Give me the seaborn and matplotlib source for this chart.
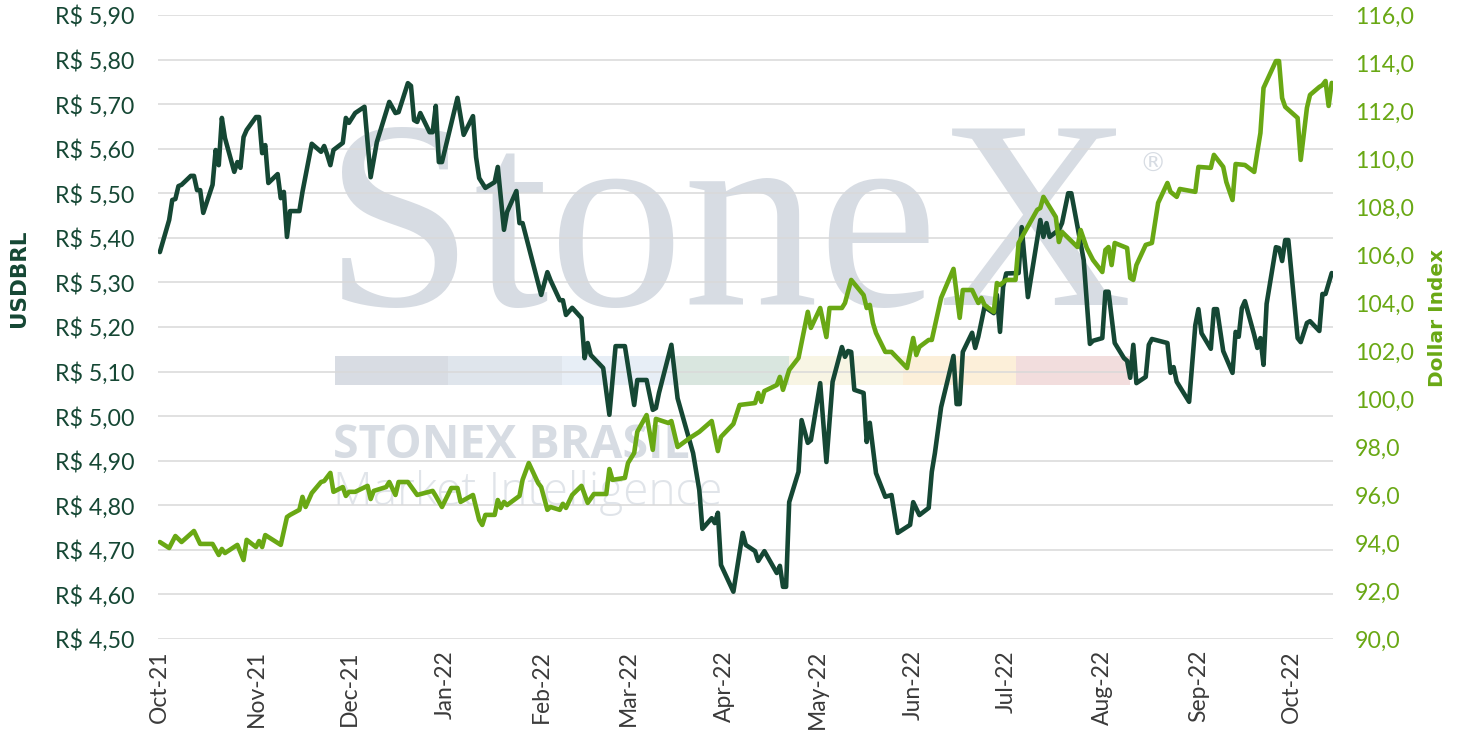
import matplotlib
matplotlib.use("Agg")
import matplotlib.pyplot as plt
import matplotlib.dates as mdates
from matplotlib.patches import Rectangle
from matplotlib.ticker import FuncFormatter
import seaborn as sns
import pandas as pd
import numpy as np

# USDBRL (left axis)
usd_dates = [
    "2021-10-01", "2021-10-04", "2021-10-05", "2021-10-06", "2021-10-07", "2021-10-08", "2021-10-11",
    "2021-10-12", "2021-10-13", "2021-10-14", "2021-10-15", "2021-10-18", "2021-10-19", "2021-10-20",
    "2021-10-21", "2021-10-22", "2021-10-25", "2021-10-26", "2021-10-27", "2021-10-28", "2021-10-29",
    "2021-11-01", "2021-11-02", "2021-11-03", "2021-11-04", "2021-11-05", "2021-11-08", "2021-11-09",
    "2021-11-10", "2021-11-11", "2021-11-12", "2021-11-15", "2021-11-16", "2021-11-19", "2021-11-22",
    "2021-11-23", "2021-11-24", "2021-11-25", "2021-11-26", "2021-11-29", "2021-11-30", "2021-12-01",
    "2021-12-03", "2021-12-06", "2021-12-08", "2021-12-10", "2021-12-14", "2021-12-16", "2021-12-17",
    "2021-12-20", "2021-12-21", "2021-12-22", "2021-12-23", "2021-12-24", "2021-12-27", "2021-12-28",
    "2021-12-29", "2021-12-30", "2021-12-31", "2022-01-05", "2022-01-07", "2022-01-10", "2022-01-11",
    "2022-01-12", "2022-01-14", "2022-01-17", "2022-01-18", "2022-01-20", "2022-01-21", "2022-01-24",
    "2022-01-25", "2022-01-26", "2022-02-01", "2022-02-03", "2022-02-04", "2022-02-07", "2022-02-08",
    "2022-02-09", "2022-02-11", "2022-02-14", "2022-02-15", "2022-02-16", "2022-02-17", "2022-02-21",
    "2022-02-23", "2022-02-25", "2022-02-28", "2022-03-03", "2022-03-04", "2022-03-07", "2022-03-09",
    "2022-03-10", "2022-03-11", "2022-03-15", "2022-03-17", "2022-03-22", "2022-03-24", "2022-03-25",
    "2022-03-28", "2022-03-29", "2022-03-30", "2022-03-31", "2022-04-04", "2022-04-07", "2022-04-08",
    "2022-04-11", "2022-04-12", "2022-04-14", "2022-04-18", "2022-04-19", "2022-04-20", "2022-04-21",
    "2022-04-22", "2022-04-25", "2022-04-26", "2022-04-28", "2022-04-29", "2022-05-02", "2022-05-04",
    "2022-05-06", "2022-05-09", "2022-05-10", "2022-05-11", "2022-05-12", "2022-05-13", "2022-05-16",
    "2022-05-17", "2022-05-18", "2022-05-20", "2022-05-23", "2022-05-25", "2022-05-27", "2022-05-31",
    "2022-06-01", "2022-06-03", "2022-06-06", "2022-06-07", "2022-06-08", "2022-06-10", "2022-06-14",
    "2022-06-15", "2022-06-16", "2022-06-17", "2022-06-20", "2022-06-21", "2022-06-22", "2022-06-24",
    "2022-06-27", "2022-06-28", "2022-06-29", "2022-06-30", "2022-07-01", "2022-07-05", "2022-07-06",
    "2022-07-08", "2022-07-12", "2022-07-13", "2022-07-14", "2022-07-15", "2022-07-18", "2022-07-19",
    "2022-07-21", "2022-07-22", "2022-07-26", "2022-07-28", "2022-07-29", "2022-08-01", "2022-08-02",
    "2022-08-03", "2022-08-05", "2022-08-08", "2022-08-09", "2022-08-10", "2022-08-11", "2022-08-12",
    "2022-08-15", "2022-08-16", "2022-08-17", "2022-08-22", "2022-08-23", "2022-08-24", "2022-08-25",
    "2022-08-29", "2022-08-31", "2022-09-01", "2022-09-02", "2022-09-05", "2022-09-06", "2022-09-07",
    "2022-09-09", "2022-09-12", "2022-09-13", "2022-09-14", "2022-09-15", "2022-09-16", "2022-09-19",
    "2022-09-20", "2022-09-21", "2022-09-22", "2022-09-23", "2022-09-26", "2022-09-27", "2022-09-28",
    "2022-09-29", "2022-09-30", "2022-10-03", "2022-10-04", "2022-10-06", "2022-10-07", "2022-10-10",
    "2022-10-11", "2022-10-12", "2022-10-14",
]
usd_values = [
    5.368, 5.440, 5.485, 5.487, 5.516, 5.519, 5.539,
    5.539, 5.507, 5.507, 5.456, 5.519, 5.597, 5.563,
    5.669, 5.624, 5.548, 5.570, 5.557, 5.626, 5.642,
    5.671, 5.671, 5.590, 5.608, 5.523, 5.543, 5.489,
    5.503, 5.402, 5.460, 5.460, 5.503, 5.611, 5.593,
    5.606, 5.586, 5.563, 5.597, 5.613, 5.669, 5.658,
    5.680, 5.694, 5.536, 5.615, 5.705, 5.680, 5.682,
    5.747, 5.741, 5.664, 5.660, 5.680, 5.637, 5.637,
    5.696, 5.570, 5.570, 5.714, 5.631, 5.673, 5.581,
    5.534, 5.512, 5.525, 5.559, 5.418, 5.458, 5.505,
    5.433, 5.433, 5.272, 5.323, 5.305, 5.260, 5.260,
    5.227, 5.243, 5.220, 5.130, 5.164, 5.137, 5.108,
    5.003, 5.157, 5.157, 5.025, 5.081, 5.081, 5.014,
    5.018, 5.052, 5.160, 5.040, 4.917, 4.834, 4.747,
    4.771, 4.760, 4.783, 4.666, 4.606, 4.738, 4.711,
    4.697, 4.675, 4.697, 4.648, 4.664, 4.617, 4.617,
    4.807, 4.875, 4.991, 4.940, 4.946, 5.074, 4.897,
    5.077, 5.155, 5.133, 5.146, 5.144, 5.059, 5.052,
    4.942, 4.985, 4.872, 4.819, 4.823, 4.738, 4.756,
    4.807, 4.778, 4.794, 4.875, 4.917, 5.020, 5.135,
    5.027, 5.027, 5.144, 5.187, 5.153, 5.178, 5.245,
    5.231, 5.272, 5.189, 5.290, 5.320, 5.321, 5.424,
    5.267, 5.440, 5.402, 5.433, 5.402, 5.418, 5.433,
    5.500, 5.500, 5.350, 5.162, 5.169, 5.175, 5.279,
    5.279, 5.164, 5.130, 5.124, 5.086, 5.160, 5.074,
    5.088, 5.160, 5.173, 5.164, 5.097, 5.110, 5.077,
    5.032, 5.204, 5.240, 5.186, 5.151, 5.240, 5.240,
    5.146, 5.097, 5.189, 5.178, 5.242, 5.258, 5.182,
    5.153, 5.175, 5.115, 5.252, 5.379, 5.377, 5.348,
    5.395, 5.395, 5.175, 5.166, 5.209, 5.213, 5.191,
    5.274, 5.274, 5.321,
]

# Dollar Index (right axis)
dxy_dates = [
    "2021-10-01", "2021-10-04", "2021-10-06", "2021-10-08", "2021-10-12", "2021-10-14", "2021-10-18",
    "2021-10-20", "2021-10-21", "2021-10-22", "2021-10-26", "2021-10-28", "2021-10-29", "2021-11-01",
    "2021-11-02", "2021-11-03", "2021-11-04", "2021-11-09", "2021-11-11", "2021-11-12", "2021-11-15",
    "2021-11-16", "2021-11-17", "2021-11-19", "2021-11-22", "2021-11-23", "2021-11-25", "2021-11-26",
    "2021-11-29", "2021-11-30", "2021-12-01", "2021-12-03", "2021-12-07", "2021-12-08", "2021-12-09",
    "2021-12-13", "2021-12-14", "2021-12-16", "2021-12-17", "2021-12-20", "2021-12-23", "2021-12-28",
    "2021-12-29", "2021-12-31", "2022-01-03", "2022-01-05", "2022-01-06", "2022-01-10", "2022-01-12",
    "2022-01-13", "2022-01-14", "2022-01-17", "2022-01-18", "2022-01-19", "2022-01-20", "2022-01-21",
    "2022-01-25", "2022-01-26", "2022-01-28", "2022-01-31", "2022-02-01", "2022-02-03", "2022-02-04",
    "2022-02-07", "2022-02-08", "2022-02-09", "2022-02-11", "2022-02-14", "2022-02-16", "2022-02-18",
    "2022-02-22", "2022-02-23", "2022-02-24", "2022-02-28", "2022-03-01", "2022-03-03", "2022-03-04",
    "2022-03-07", "2022-03-09", "2022-03-10", "2022-03-14", "2022-03-15", "2022-03-17", "2022-03-21",
    "2022-03-24", "2022-03-28", "2022-03-30", "2022-03-31", "2022-04-04", "2022-04-06", "2022-04-11",
    "2022-04-12", "2022-04-13", "2022-04-14", "2022-04-18", "2022-04-19", "2022-04-20", "2022-04-22",
    "2022-04-25", "2022-04-28", "2022-04-29", "2022-05-02", "2022-05-04", "2022-05-05", "2022-05-09",
    "2022-05-10", "2022-05-12", "2022-05-16", "2022-05-17", "2022-05-18", "2022-05-19", "2022-05-20",
    "2022-05-23", "2022-05-25", "2022-05-30", "2022-06-01", "2022-06-02", "2022-06-03", "2022-06-06",
    "2022-06-07", "2022-06-10", "2022-06-14", "2022-06-16", "2022-06-17", "2022-06-20", "2022-06-22",
    "2022-06-23", "2022-06-24", "2022-06-27", "2022-06-28", "2022-06-29", "2022-07-01", "2022-07-04",
    "2022-07-05", "2022-07-07", "2022-07-11", "2022-07-12", "2022-07-13", "2022-07-17", "2022-07-18",
    "2022-07-19", "2022-07-24", "2022-07-25", "2022-07-27", "2022-07-29", "2022-08-01", "2022-08-02",
    "2022-08-03", "2022-08-04", "2022-08-05", "2022-08-09", "2022-08-10", "2022-08-11", "2022-08-12",
    "2022-08-15", "2022-08-17", "2022-08-19", "2022-08-22", "2022-08-23", "2022-08-25", "2022-08-26",
    "2022-08-31", "2022-09-01", "2022-09-05", "2022-09-06", "2022-09-09", "2022-09-10", "2022-09-12",
    "2022-09-13", "2022-09-16", "2022-09-19", "2022-09-20", "2022-09-21", "2022-09-22", "2022-09-26",
    "2022-09-27", "2022-09-28", "2022-09-29", "2022-10-03", "2022-10-04", "2022-10-06", "2022-10-07",
    "2022-10-10", "2022-10-11", "2022-10-12", "2022-10-13", "2022-10-14",
]
dxy_values = [
    94.04, 93.79, 94.29, 94.04, 94.50, 93.96, 93.96,
    93.50, 93.75, 93.58, 93.92, 93.29, 94.13, 93.83,
    94.08, 93.83, 94.33, 93.92, 95.08, 95.17, 95.38,
    95.92, 95.50, 96.08, 96.54, 96.58, 96.92, 96.13,
    96.33, 95.96, 96.13, 96.13, 96.38, 95.83, 96.17,
    96.33, 96.54, 96.00, 96.54, 96.54, 96.00, 96.17,
    95.96, 95.50, 96.29, 96.29, 95.71, 96.00, 94.96,
    94.75, 95.17, 95.17, 95.79, 95.46, 95.71, 95.58,
    95.96, 96.63, 97.33, 96.50, 96.33, 95.38, 95.50,
    95.38, 95.63, 95.46, 96.00, 96.38, 95.67, 96.04,
    96.04, 97.08, 96.63, 96.71, 97.33, 97.75, 98.63,
    99.33, 97.88, 99.17, 99.00, 99.08, 98.00, 98.38,
    98.63, 99.08, 97.83, 98.42, 98.96, 99.75, 99.83,
    100.25, 99.88, 100.33, 100.58, 100.92, 100.38, 101.21,
    101.71, 103.63, 102.96, 103.79, 102.58, 103.79, 103.79,
    104.00, 104.96, 104.33, 103.79, 103.92, 103.17, 102.75,
    101.96, 101.96, 101.29, 102.54, 101.83, 102.17, 102.46,
    102.46, 104.21, 105.42, 103.38, 104.54, 104.54, 104.00,
    104.21, 103.92, 103.63, 104.83, 104.75, 104.96, 104.96,
    106.50, 106.96, 107.88, 107.96, 108.42, 107.58, 106.54,
    106.96, 106.33, 107.04, 106.29, 105.79, 105.29, 106.21,
    106.33, 105.58, 106.50, 106.29, 105.04, 104.96, 105.58,
    106.42, 106.50, 108.17, 109.00, 108.63, 108.42, 108.75,
    108.63, 109.67, 109.63, 110.17, 109.67, 109.04, 108.29,
    109.79, 109.75, 109.46, 110.29, 111.08, 112.96, 114.08,
    114.08, 112.54, 112.17, 111.71, 109.96, 112.13, 112.67,
    113.00, 113.08, 113.25, 112.21, 113.17,
]

left_ticks = np.round(np.arange(4.5, 5.91, 0.1), 2)
right_ticks = np.arange(90, 117, 2)
month_ticks = pd.date_range("2021-10-01", "2022-10-01", freq="MS")
strip_colors = ["#d8dce3", "#dfe5ec", "#e7eef6", "#d9e6df", "#f8f5e4", "#fcefd9", "#f2dddd"]

DARK = "#154734"
LIME = "#69a814"
WM = "#d7dce3"

sns.set_theme(style="white")
plt.rcParams["font.family"] = ["Lato", "DejaVu Sans"]

usd = pd.DataFrame({"date": pd.to_datetime(usd_dates), "value": usd_values})
dxy = pd.DataFrame({"date": pd.to_datetime(dxy_dates), "value": dxy_values})

fig = plt.figure(figsize=(14.61, 7.41), dpi=100)
ax = fig.add_axes([0.108, 0.1377, 0.8044, 0.8421])
ax2 = ax.twinx()

# watermark (behind grid and lines)
ax.text(0.1415, 0.535, "StoneX", transform=ax.transAxes, family="Liberation Serif",
        fontsize=194, color=WM, ha="left", va="baseline", zorder=0.1)
ax.text(0.835, 0.76, "®", transform=ax.transAxes, family="DejaVu Sans",
        fontsize=19, color=WM, ha="left", va="center", zorder=0.1)
seg = (0.8272 - 0.1506) / len(strip_colors)
for i, c in enumerate(strip_colors):
    ax.add_patch(Rectangle((0.1506 + i * seg, 0.407), seg, 0.0465, transform=ax.transAxes,
                           facecolor=c, edgecolor="none", zorder=0.1))
ax.text(0.149, 0.290, "STONEX BRASIL", transform=ax.transAxes, family="Open Sans",
        fontweight="bold", fontsize=33.5, color=WM, ha="left", va="baseline", zorder=0.1)
ax.text(0.149, 0.214, "Market Intelligence", transform=ax.transAxes, family="Open Sans",
        fontweight="light", fontsize=33, color="#e0e4e9", ha="left", va="baseline", zorder=0.1)

sns.lineplot(data=usd, x="date", y="value", ax=ax, color=DARK, linewidth=3.3, zorder=2)
sns.lineplot(data=dxy, x="date", y="value", ax=ax2, color=LIME, linewidth=3.3, zorder=2)

ax.set_xlim(pd.Timestamp("2021-09-30 08:00"), pd.Timestamp("2022-10-14 10:00"))
ax.set_ylim(4.5, 5.9)
ax2.set_ylim(90, 116)
ax.set_yticks(left_ticks)
ax2.set_yticks(right_ticks)
ax.set_xticks(month_ticks)
ax.xaxis.set_major_formatter(mdates.DateFormatter("%b-%y"))
ax.yaxis.set_major_formatter(FuncFormatter(lambda v, p: "R$ " + f"{v:.2f}".replace(".", ",")))
ax2.yaxis.set_major_formatter(FuncFormatter(lambda v, p: f"{v:.1f}".replace(".", ",")))

ax.set_axisbelow(True)
ax.yaxis.grid(True, color="#d9d9d9", linewidth=1.1)
ax.xaxis.grid(False)
ax2.grid(False)
for a in (ax, ax2):
    for s in a.spines.values():
        s.set_visible(False)

ax.tick_params(axis="y", length=0, pad=17, labelsize=16.7, labelcolor=DARK)
ax2.tick_params(axis="y", length=0, pad=16, labelsize=16.7, labelcolor=LIME)
ax.tick_params(axis="x", length=0, pad=8, labelsize=16.5, labelcolor="#3a3a3a", rotation=90)

ax.set_xlabel("")
ax.set_ylabel("USDBRL", family="DejaVu Sans", fontsize=15.5, fontweight="bold", color=DARK)
ax.yaxis.set_label_coords(-0.1098, 0.5785)
ax2.set_ylabel("Dollar Index", family="DejaVu Sans", fontsize=14.5, fontweight="bold", color=LIME)
ax2.yaxis.set_label_coords(1.0809, 0.514)

fig.savefig("out.png", dpi=100, facecolor="white")
